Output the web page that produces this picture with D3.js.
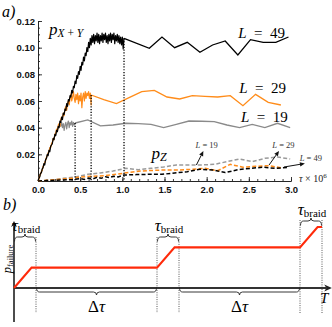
<!DOCTYPE html>
<html><head><meta charset="utf-8">
<script src="https://cdn.jsdelivr.net/npm/d3@7"></script>
<style>body{margin:0;background:#fff}svg{display:block}</style>
</head><body>
<svg id="c" width="332" height="327"></svg>
<script>
// ---------------- DATA (panel a) ----------------
// p_{X+Y}, L = 49 : dense noisy part, then sparse part
const l49Dense = [[0,0],[0.01,0.002],[0.02,0.003],[0.03,0.006],[0.04,0.006],[0.05,0.009],[0.06,0.010],[0.07,0.013],[0.08,0.012],[0.09,0.016],
[0.10,0.017],[0.11,0.020],[0.12,0.019],[0.13,0.023],[0.14,0.022],[0.15,0.026],[0.16,0.027],[0.17,0.028],[0.18,0.032],[0.19,0.031],
[0.20,0.035],[0.21,0.034],[0.22,0.038],[0.23,0.037],[0.24,0.041],[0.25,0.040],[0.26,0.045],[0.27,0.044],[0.28,0.048],[0.29,0.046],
[0.30,0.051],[0.31,0.050],[0.32,0.054],[0.33,0.053],[0.34,0.058],[0.35,0.056],[0.36,0.061],[0.37,0.060],[0.38,0.064],[0.39,0.063],
[0.40,0.068],[0.41,0.066],[0.42,0.071],[0.43,0.070],[0.44,0.075],[0.45,0.073],[0.46,0.079],[0.47,0.077],[0.48,0.082],[0.49,0.080],
[0.50,0.086],[0.51,0.083],[0.52,0.089],[0.53,0.087],[0.54,0.093],[0.55,0.090],[0.56,0.096],[0.57,0.094],[0.58,0.100],[0.59,0.097],
[0.60,0.104],[0.61,0.100],[0.62,0.107],[0.63,0.102],[0.64,0.109],[0.65,0.104],[0.66,0.110],[0.67,0.103],[0.68,0.109],[0.69,0.105],
[0.70,0.111],[0.71,0.104],[0.72,0.110],[0.73,0.103],[0.74,0.109],[0.75,0.105],[0.76,0.111],[0.77,0.104],[0.78,0.110],[0.79,0.106],
[0.80,0.111],[0.81,0.104],[0.82,0.109],[0.83,0.103],[0.84,0.110],[0.85,0.105],[0.86,0.111],[0.87,0.104],[0.88,0.110],[0.89,0.106],
[0.90,0.111],[0.91,0.103],[0.92,0.109],[0.93,0.105],[0.94,0.110],[0.95,0.104],[0.96,0.109],[0.97,0.103],[0.98,0.108],[0.99,0.102],
[1.00,0.108],[1.01,0.099],[1.02,0.107]];
const l49Sparse = [[1.02,0.107],[1.32,0.0995],[1.47,0.108],[1.62,0.100],[1.77,0.104],[1.92,0.0965],[2.07,0.102],[2.22,0.105],[2.37,0.0945],[2.52,0.106],[2.67,0.104],[2.82,0.104],[2.97,0.108]];

// p_{X+Y}, L = 29
const l29Dense = [[0,0],[0.01,0.001],[0.02,0.004],[0.03,0.005],[0.04,0.007],[0.05,0.008],[0.06,0.011],[0.07,0.012],[0.08,0.014],[0.09,0.015],
[0.10,0.018],[0.11,0.019],[0.12,0.021],[0.13,0.022],[0.14,0.025],[0.15,0.025],[0.16,0.028],[0.17,0.029],[0.18,0.032],[0.19,0.031],
[0.20,0.035],[0.21,0.036],[0.22,0.039],[0.23,0.037],[0.24,0.042],[0.25,0.043],[0.26,0.041],[0.27,0.046],[0.28,0.048],[0.29,0.047],
[0.30,0.051],[0.31,0.049],[0.32,0.054],[0.33,0.056],[0.34,0.053],[0.35,0.058],[0.36,0.060],[0.37,0.057],[0.38,0.062],[0.39,0.065],
[0.40,0.060],[0.41,0.063],[0.42,0.067],[0.43,0.062],[0.44,0.059],[0.45,0.065],[0.46,0.061],[0.47,0.066],[0.48,0.058],[0.49,0.064],
[0.50,0.060],[0.51,0.066],[0.52,0.055],[0.53,0.063],[0.54,0.066],[0.55,0.060],[0.56,0.067],[0.57,0.062],[0.58,0.066],[0.59,0.064],
[0.60,0.067],[0.61,0.062],[0.62,0.066],[0.63,0.057],[0.63,0.0645]];
const l29Sparse = [[0.63,0.0645],[0.78,0.061],[0.93,0.058],[1.08,0.0625],[1.23,0.067],[1.38,0.068],[1.53,0.063],[1.68,0.0615],[1.83,0.064],[1.98,0.0635],[2.13,0.063],[2.28,0.064],[2.43,0.0565],[2.58,0.065],[2.73,0.059],[2.88,0.057]];

// p_{X+Y}, L = 19
const l19Dense = [[0,0],[0.01,0.002],[0.02,0.003],[0.03,0.005],[0.04,0.007],[0.05,0.009],[0.06,0.010],[0.07,0.012],[0.08,0.014],[0.09,0.016],
[0.10,0.017],[0.11,0.019],[0.12,0.021],[0.13,0.022],[0.14,0.024],[0.15,0.026],[0.16,0.027],[0.17,0.029],[0.18,0.031],[0.19,0.032],
[0.20,0.034],[0.21,0.035],[0.22,0.037],[0.23,0.039],[0.24,0.040],[0.25,0.041],[0.26,0.043],[0.27,0.041],[0.28,0.044],[0.29,0.040],
[0.30,0.043],[0.31,0.038],[0.32,0.042],[0.33,0.044],[0.34,0.039],[0.35,0.043],[0.36,0.045],[0.37,0.040],[0.38,0.044],[0.39,0.042],
[0.40,0.045],[0.41,0.041],[0.42,0.044],[0.43,0.042],[0.44,0.0435]];
const l19Sparse = [[0.44,0.0435],[0.59,0.0458],[0.74,0.0413],[0.89,0.042],[1.04,0.0433],[1.19,0.043],[1.34,0.0425],[1.49,0.040],[1.64,0.0425],[1.79,0.045],[1.94,0.0448],[2.09,0.0445],[2.24,0.042],[2.39,0.040],[2.54,0.0425],[2.69,0.040],[2.84,0.0433],[2.99,0.040]];

// p_Z (dashed)
const pZ19 = [[0,0],[0.1,0.0005],[0.2,0.001],[0.3,0.002],[0.44,0.003],[0.59,0.005],[0.74,0.006],[0.89,0.0075],[1.04,0.0095],[1.19,0.0085],[1.34,0.0095],[1.49,0.0105],[1.64,0.012],[1.79,0.012],[1.94,0.012],[2.09,0.0125],[2.24,0.0145],[2.39,0.0165],[2.54,0.0145],[2.69,0.017],[2.84,0.018],[2.99,0.0165]];
const pZ29 = [[0,0],[0.2,0.001],[0.4,0.002],[0.5,0.003],[0.63,0.0035],[0.78,0.004],[0.93,0.005],[1.08,0.0065],[1.23,0.0075],[1.38,0.008],[1.53,0.0083],[1.68,0.0083],[1.83,0.0088],[1.98,0.0095],[2.13,0.0077],[2.28,0.0125],[2.43,0.0103],[2.58,0.011],[2.73,0.0115],[2.88,0.010]];
const pZ49 = [[0,0],[0.2,0.0005],[0.4,0.001],[0.5,0.0018],[0.55,0.0012],[0.6,0.0022],[0.65,0.0016],[0.7,0.0028],[0.75,0.002],[0.8,0.0032],[0.85,0.0026],[0.9,0.0036],[0.95,0.003],[1.0,0.0042],[1.02,0.0045],[1.17,0.0048],[1.32,0.005],[1.47,0.005],[1.62,0.006],[1.77,0.007],[1.92,0.0088],[2.07,0.0083],[2.22,0.0063],[2.37,0.0085],[2.52,0.0095],[2.67,0.0103],[2.82,0.0095],[2.97,0.0103]];

// vertical dotted markers: [tau, top value]
const markers = [[0.44,0.0435],[0.63,0.0645],[1.02,0.107]];

// tick labels
const yTicks = [0.02,0.04,0.06,0.08,0.10,0.12];
const xTicks = [0,0.5,1.0,1.5,2.0,2.5,3.0];

// labels (text, tau, value)
const bigLabels = [["49",2.374,0.1075],["29",2.386,0.066],["19",2.406,0.0443]];
// small arrow annotations: label, label pos, arrow from, arrow to
const smallAnnots = [
  {n:"19", lab:[2.0,0.0245], from:[1.878,0.012], to:[1.961,0.0225]},
  {n:"29", lab:[2.91,0.0245], from:[2.74,0.012], to:[2.858,0.0225]},
  {n:"49", lab:[3.236,0.0147], from:[2.917,0.0105], to:[3.165,0.0131]}
];

// ---------------- DATA (panel b, schematic) ----------------
const bRed = [[0,0],[0.8,1],[6.5,1],[7.3,2],[13,2],[13.8,3],[14,3]];
const bMarks = [1,6.5,7.5,13,14];
const topBraces = [[0,1,0],[6.5,7.5,0],[13,14,1]];   // [from, to, raised?]
const bottomBraces = [[1,6.5],[7.5,13]];

// ---------------- DRAW ----------------
const svg = d3.select('#c');
const serif = "'Liberation Serif','Times New Roman',serif";
const x = d3.scaleLinear().domain([0,3]).range([38,291]);
const y = d3.scaleLinear().domain([0,0.12]).range([181,21]);
const line = d3.line().x(d=>x(d[0])).y(d=>y(d[1]));

const ORANGE = '#ff8c1a', GRAY = '#8a8a8a';

// axes (minor ticks)
const gA = svg.append('g');
const yMinor = d3.range(0,0.1201,0.005);
const xMinor = d3.range(0,3.001,0.1);
gA.append('g').attr('transform','translate(38,0)')
  .call(d3.axisLeft(y).tickValues(yMinor).tickSize(-2).tickSizeOuter(0).tickFormat(''));
gA.append('g').attr('transform','translate(0,181)')
  .call(d3.axisBottom(x).tickValues(xMinor).tickSize(-2).tickSizeOuter(0).tickFormat(''));
const yAx = gA.append('g').attr('transform','translate(38,0)')
  .call(d3.axisLeft(y).tickValues(yTicks).tickSize(-4).tickSizeOuter(0).tickPadding(3).tickFormat(d3.format('.2f')));
const xAx = gA.append('g').attr('transform','translate(0,181)')
  .call(d3.axisBottom(x).tickValues(xTicks).tickSize(-4).tickSizeOuter(0).tickPadding(5).tickFormat(d3.format('.1f')));
gA.selectAll('path.domain, line').attr('stroke','#222').attr('stroke-width',0.9);
gA.selectAll('text').attr('font-family',"'Liberation Sans',Arial,sans-serif").attr('font-weight','bold').attr('font-size',9.5).attr('fill','#111');

// dashed p_Z
const dashed = [[pZ19,'#9a9a9a'],[pZ29,ORANGE],[pZ49,'#000']];
dashed.forEach(([d,c])=>svg.append('path').attr('d',line(d)).attr('fill','none').attr('stroke',c).attr('stroke-width',1.5).attr('stroke-dasharray','4,2.2'));

// solid p_{X+Y}
[[l19Dense,l19Sparse,GRAY],[l29Dense,l29Sparse,ORANGE],[l49Dense,l49Sparse,'#000']].forEach(([a,b,c])=>{
  svg.append('path').attr('d',line(a)).attr('fill','none').attr('stroke',c).attr('stroke-width',1.2).attr('stroke-linejoin','round');
  svg.append('path').attr('d',line(b)).attr('fill','none').attr('stroke',c).attr('stroke-width',1.3).attr('stroke-linejoin','miter');
});

// dotted markers
markers.forEach(([t,v])=>svg.append('line').attr('x1',x(t)).attr('x2',x(t)).attr('y1',y(v)).attr('y2',y(0))
  .attr('stroke','#000').attr('stroke-width',1.3).attr('stroke-dasharray','1.2,1.6'));

// labels
svg.append('text').attr('font-family',serif).attr('font-style','italic').attr('x',2).attr('y',17).attr('font-size',16).text('a)');
const pxy = svg.append('text').attr('font-family',serif).attr('font-style','italic').attr('x',x(0.13)).attr('y',y(0.1095)).attr('font-size',17);
pxy.append('tspan').text('p');
pxy.append('tspan').attr('font-size',11.5).attr('dy',2).text('X\u2009+\u2009Y');

bigLabels.forEach(([n,t,v])=>{
  const tx = svg.append('text').attr('font-family',serif).attr('x',x(t)).attr('y',y(v)).attr('font-size',15);
  tx.append('tspan').attr('font-style','italic').text('L');
  tx.append('tspan').text('\u2002=\u2002'+n);
});
const pz = svg.append('text').attr('font-family',serif).attr('font-style','italic').attr('x',x(1.346)).attr('y',y(0.0165)).attr('font-size',17);
pz.append('tspan').text('p');
pz.append('tspan').attr('font-size',12).attr('dy',2).text('Z');

// axis label tau x 10^6
const xl = svg.append('text').attr('font-family',serif).attr('x',299).attr('y',182).attr('font-size',10).attr('fill','#222');
xl.append('tspan').attr('font-style','italic').text('\u03C4');
xl.append('tspan').text(' \u00D7 10');
xl.append('tspan').attr('font-size',7).attr('dy',-4).text('6');

// small annotations
smallAnnots.forEach(a=>{
  const tx = svg.append('text').attr('font-family',serif).attr('x',x(a.lab[0])).attr('y',y(a.lab[1])).attr('font-size',8.5).attr('text-anchor','middle').attr('fill','#333');
  tx.append('tspan').attr('font-style','italic').text('L');
  tx.append('tspan').text(' = '+a.n);
  const x1=x(a.from[0]), y1=y(a.from[1]), x2=x(a.to[0]), y2=y(a.to[1]);
  const ang=Math.atan2(y2-y1,x2-x1), L=5, W=2.2;
  const bx=x2-L*Math.cos(ang), byy=y2-L*Math.sin(ang);
  svg.append('line').attr('x1',x1).attr('y1',y1).attr('x2',bx).attr('y2',byy).attr('stroke','#111').attr('stroke-width',1);
  svg.append('path').attr('d',`M${x2},${y2}L${bx-W*Math.sin(ang)},${byy+W*Math.cos(ang)}L${bx+W*Math.sin(ang)},${byy-W*Math.cos(ang)}Z`).attr('fill','#111');
});

// ---------------- PANEL b ----------------
const bx = d3.scaleLinear().domain([0,14]).range([14,322]);
const by = d3.scaleLinear().domain([0,3]).range([288,227]);

svg.append('text').attr('font-family',serif).attr('font-style','italic').attr('x',3).attr('y',210).attr('font-size',16).text('b)');

// dotted markers
bMarks.forEach(m=>{
  svg.append('line').attr('x1',bx(m)).attr('x2',bx(m)).attr('y1',m>=13?220:237).attr('y2',313)
    .attr('stroke','#444').attr('stroke-width',0.9).attr('stroke-dasharray','1,1.3');
});

// axes
svg.append('line').attr('x1',bx(0)).attr('x2',bx(14.2)).attr('y1',by(0)).attr('y2',by(0)).attr('stroke','#333').attr('stroke-width',2.2);
svg.append('path').attr('d',`M${bx(14.45)},${by(0)}L${bx(14.1)},${by(0)-3.5}L${bx(14.2)},${by(0)}L${bx(14.1)},${by(0)+3.5}Z`).attr('fill','#222');
svg.append('line').attr('x1',bx(0)).attr('x2',bx(0)).attr('y1',322).attr('y2',225).attr('stroke','#111').attr('stroke-width',1.5);
svg.append('path').attr('d',`M${bx(0)},221L${bx(0)-3},227L${bx(0)},225L${bx(0)+3},227Z`).attr('fill','#111');

// red line
svg.append('path').attr('d',d3.line().x(d=>bx(d[0])).y(d=>by(d[1]))(bRed)).attr('fill','none').attr('stroke','#ff2a0a').attr('stroke-width',2.1);

// braces
function brace(x1,x2,yb,s){ // s=+1 tip up, -1 tip down
  const m=(x1+x2)/2, r=3, leg=4.5, tip=3;
  return `M${x1},${yb+s*leg}Q${x1},${yb} ${x1+r},${yb}L${m-r},${yb}Q${m},${yb} ${m},${yb-s*tip}Q${m},${yb} ${m+r},${yb}L${x2-r},${yb}Q${x2},${yb} ${x2},${yb+s*leg}`;
}
topBraces.forEach(([a,b,raised])=>{
  const yb = raised?221:237;
  svg.append('path').attr('d',brace(bx(a)+0.5,bx(b)-0.5,yb,1)).attr('fill','none').attr('stroke','#222').attr('stroke-width',0.9);
  const t = svg.append('text').attr('font-family',serif).attr('x',(bx(a)+bx(b))/2+1).attr('y',yb-6).attr('text-anchor','middle').attr('font-size',17);
  t.append('tspan').attr('font-style','italic').text('\u03C4');
  t.append('tspan').attr('font-size',11).attr('dy',1.5).text('braid');
});
bottomBraces.forEach(([a,b])=>{
  svg.append('path').attr('d',brace(bx(a)+0.5,bx(b)-0.5,292,-1)).attr('fill','none').attr('stroke','#222').attr('stroke-width',0.9);
  const t = svg.append('text').attr('font-family',serif).attr('x',(bx(a)+bx(b))/2).attr('y',312).attr('text-anchor','middle').attr('font-size',17);
  t.append('tspan').text('\u0394');
  t.append('tspan').attr('font-style','italic').text('\u03C4');
});
svg.append('text').attr('font-family',serif).attr('font-style','italic').attr('x',bx(14.1)).attr('y',303).attr('text-anchor','middle').attr('font-size',15).text('T');

// p_failure rotated label
const pf = svg.append('text').attr('font-family',serif).attr('transform','translate(11,259) rotate(-90)').attr('text-anchor','middle').attr('font-size',12.5);
pf.append('tspan').attr('font-style','italic').text('p');
pf.append('tspan').attr('font-size',8.5).attr('dy',2).text('failure');
</script>
</body></html>
